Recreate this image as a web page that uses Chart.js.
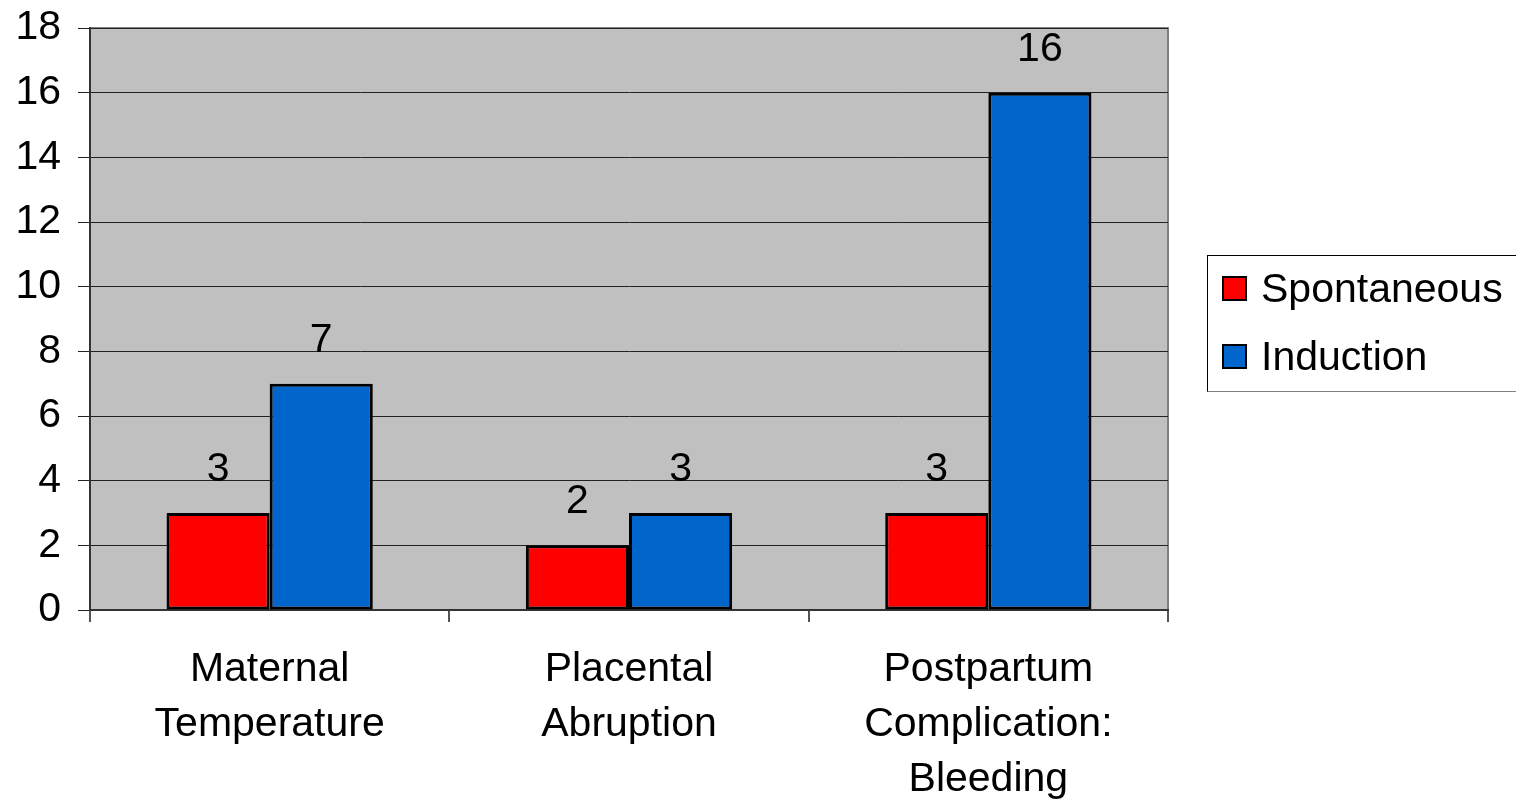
<!DOCTYPE html>
<html>
<head>
<meta charset="utf-8">
<script src="https://cdn.jsdelivr.net/npm/chart.js@4.4.1/dist/chart.umd.min.js"></script>
<style>
  html, body { margin: 0; padding: 0; background: #fff; }
  #wrap { position: relative; width: 1516px; height: 804px; }
  #legend {
    position: absolute; left: 1207px; top: 255px; width: 309px; height: 137px;
    border: 1px solid #000; border-right: none; border-bottom-color: #808080;
    box-sizing: border-box; font-family: "Liberation Sans", Arial, sans-serif; font-size: 41px;
  }
  .item { position: absolute; left: 14px; display: flex; align-items: center; }
  .swatch { width: 21px; height: 21px; border: 2px solid #000; margin-right: 14px; }
</style>
</head>
<body>
<div id="wrap">
  <canvas id="chart" width="1516" height="804"></canvas>
  <div id="legend"></div>
</div>
<script>
const categories = [
  ['Maternal', 'Temperature'],
  ['Placental', 'Abruption'],
  ['Postpartum', 'Complication:', 'Bleeding']
];
const spontaneous = [3, 2, 3];
const induction = [7, 3, 16];
const seriesNames = ['Spontaneous', 'Induction'];
const seriesColors = ['#FF0000', '#0066CC'];
const yTicks = [0, 2, 4, 6, 8, 10, 12, 14, 16, 18];

const FONT = '"Liberation Sans", Arial, sans-serif';

// plot area background and border
const plotBg = {
  id: 'plotBg',
  beforeDraw(chart) {
    const { ctx, chartArea: a } = chart;
    ctx.save();
    ctx.fillStyle = '#C0C0C0';
    ctx.fillRect(a.left, a.top, a.right - a.left, a.bottom - a.top);
    ctx.strokeStyle = '#808080';
    ctx.lineWidth = 2;
    ctx.beginPath();
    ctx.moveTo(a.left, a.top);
    ctx.lineTo(a.right, a.top);
    ctx.lineTo(a.right, a.bottom);
    ctx.stroke();
    ctx.restore();
  }
};

// value labels above the bars
const valueLabels = {
  id: 'valueLabels',
  afterDatasetsDraw(chart) {
    const { ctx } = chart;
    ctx.save();
    ctx.font = '41px ' + FONT;
    ctx.fillStyle = '#000';
    ctx.textAlign = 'center';
    ctx.textBaseline = 'alphabetic';
    chart.data.datasets.forEach((ds, i) => {
      chart.getDatasetMeta(i).data.forEach((bar, j) => {
        ctx.fillText(ds.data[j], bar.x, bar.y - 32);
      });
    });
    ctx.restore();
  }
};

new Chart(document.getElementById('chart'), {
  type: 'bar',
  data: {
    labels: categories,
    datasets: [
      { label: seriesNames[0], data: spontaneous, backgroundColor: seriesColors[0] },
      { label: seriesNames[1], data: induction, backgroundColor: seriesColors[1] }
    ].map(d => Object.assign(d, {
      borderColor: '#000',
      borderWidth: 3,
      borderSkipped: false,
      categoryPercentage: 0.574,
      barPercentage: 1.0
    }))
  },
  options: {
    responsive: false,
    animation: false,
    layout: { padding: { left: 0, right: 348, top: 28, bottom: 0 } },
    plugins: {
      legend: { display: false },
      tooltip: { enabled: false }
    },
    scales: {
      x: {
        offset: true,
        grid: {
          offset: true,
          drawOnChartArea: false,
          drawTicks: true,
          tickLength: 12,
          color: '#555',
          lineWidth: 2
        },
        border: { color: '#333', width: 2 },
        ticks: {
          color: '#000',
          font: { family: FONT, size: 41, lineHeight: 1.34 },
          padding: 20,
          maxRotation: 0,
          autoSkip: false
        },
        afterFit(scale) { scale.height = 194; }
      },
      y: {
        min: 0,
        max: 18,
        afterBuildTicks(scale) { scale.ticks = yTicks.map(v => ({ value: v })); },
        grid: {
          color: '#222',
          lineWidth: 1,
          tickLength: 12,
          drawTicks: true
        },
        border: { color: '#333', width: 2 },
        ticks: {
          color: '#000',
          font: { family: FONT, size: 41 },
          padding: 17
        },
        afterFit(scale) {
          scale.width = 90;
          scale.paddingTop = 0;
        }
      }
    }
  },
  plugins: [plotBg, valueLabels]
});

// legend
const legend = document.getElementById('legend');
seriesNames.forEach((name, i) => {
  const item = document.createElement('div');
  item.className = 'item';
  item.style.top = (i === 0 ? 9 : 77) + 'px';
  item.innerHTML = '<div class="swatch" style="background:' + seriesColors[i] + '"></div><span>' + name + '</span>';
  legend.appendChild(item);
});
</script>
</body>
</html>
